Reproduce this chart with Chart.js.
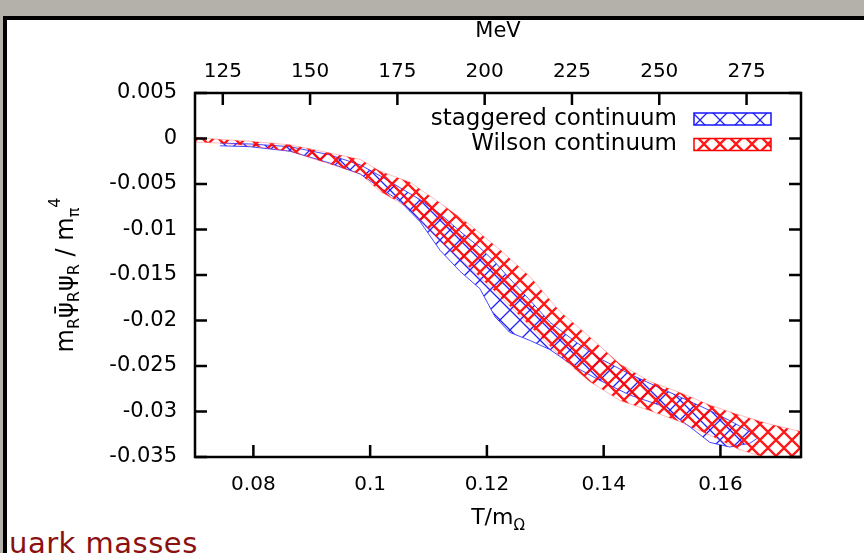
<!DOCTYPE html>
<html>
<head>
<meta charset="utf-8">
<script src="https://cdn.jsdelivr.net/npm/chart.js@4.4.0/dist/chart.umd.min.js"></script>
<style>
  html, body { margin: 0; padding: 0; }
  body { width: 864px; height: 553px; position: relative; overflow: hidden; background: #fff; }
  #topstrip { position: absolute; left: 0; top: 0; width: 864px; height: 17px; background: #b3b1a9; }
  #leftstrip { position: absolute; left: 0; top: 0; width: 3px; height: 553px; background: #b3b1a9; }
  #topline { position: absolute; left: 3px; top: 16px; width: 861px; height: 4px; background: #000; }
  #leftline { position: absolute; left: 3px; top: 16px; width: 4px; height: 537px; background: #000; }
  #note { position: absolute; left: 9px; top: 526px; font: 29px "DejaVu Sans"; letter-spacing: 0.5px; color: #8b1010; white-space: nowrap; }
  #wrap { position: absolute; left: 0; top: 0; width: 864px; height: 553px; }
</style>
</head>
<body>
<div id="topstrip"></div>
<div id="leftstrip"></div>
<div id="topline"></div>
<div id="leftline"></div>
<div id="note">uark masses</div>
<div id="wrap"><canvas id="chart" width="864" height="553"></canvas></div>
<script>
// axis ranges and ticks
const xMin = 0.07, xMax = 0.1738;
const mOmega = 1672; // MeV, top axis = T/m_Omega * m_Omega
const xTicks = [0.08, 0.1, 0.12, 0.14, 0.16];
const mevTicks = [125, 150, 175, 200, 225, 250, 275];
const yTicks = [0.005, 0, -0.005, -0.01, -0.015, -0.02, -0.025, -0.03, -0.035];

// Wilson continuum band
const wilsX  = [0.0700, 0.0743, 0.0794, 0.0863, 0.0931, 0.0983, 0.1017, 0.1068, 0.1120, 0.1171, 0.1222, 0.1274, 0.1325, 0.1376, 0.1428, 0.1479, 0.1530, 0.1582, 0.1633, 0.1685, 0.1738];
const wilsHi = [0.00015, -0.0001, -0.0003, -0.0007, -0.0016, -0.0023, -0.0036, -0.0048, -0.0071, -0.0095, -0.0122, -0.0152, -0.0190, -0.0218, -0.0248, -0.0267, -0.0279, -0.0293, -0.0304, -0.0314, -0.0322];
const wilsLo = [-0.0004, -0.0005, -0.0008, -0.0014, -0.0028, -0.0039, -0.0058, -0.0077, -0.0113, -0.0142, -0.0173, -0.0206, -0.0239, -0.0267, -0.0288, -0.0299, -0.0311, -0.0326, -0.0342, -0.0352, -0.0358];

// staggered continuum band
const stagX  = [0.0743, 0.0794, 0.0863, 0.0931, 0.0983, 0.1017, 0.1051, 0.1085, 0.1120, 0.1154, 0.1188, 0.1214, 0.1239, 0.1274, 0.1308, 0.1351, 0.1394, 0.1445, 0.1496, 0.1548, 0.1582, 0.1616, 0.1650, 0.1662];
const stagHi = [-0.0005, -0.0006, -0.0009, -0.0018, -0.0029, -0.0041, -0.0054, -0.0067, -0.0083, -0.0102, -0.0120, -0.0136, -0.0154, -0.0178, -0.0202, -0.0223, -0.0242, -0.0259, -0.0274, -0.0289, -0.0299, -0.0310, -0.0322, -0.0329];
const stagLo = [-0.0008, -0.0009, -0.0014, -0.0027, -0.0039, -0.0054, -0.0069, -0.0091, -0.0123, -0.0146, -0.0165, -0.0196, -0.0213, -0.0222, -0.0232, -0.0251, -0.0266, -0.0282, -0.0293, -0.0317, -0.0334, -0.0339, -0.0335, -0.0330];

const labels = ['staggered continuum', 'Wilson continuum'];

function hatch(size, color, width) {
  const c = document.createElement('canvas');
  c.width = c.height = size;
  const g = c.getContext('2d');
  g.strokeStyle = color;
  g.lineWidth = width;
  g.beginPath();
  for (const o of [-size, 0, size]) {
    g.moveTo(o, 0); g.lineTo(o + size, size);
    g.moveTo(o + size, 0); g.lineTo(o, size);
  }
  g.stroke();
  return g.createPattern(c, 'repeat');
}

const bluePat = hatch(20, 'rgba(10,10,255,0.9)', 1.3);
const redPat = hatch(16, 'rgba(255,0,0,0.9)', 2.3);

const pts = (xs, ys) => xs.map((x, i) => ({ x: x, y: ys[i] }));

const font = 'DejaVu Sans';

// draws a string made of parts with sub/superscripts, centred at (0,0) along the baseline
function richText(ctx, parts, align) {
  let w = 0;
  parts.forEach(p => { ctx.font = p.size + 'px "' + font + '"'; p.w = ctx.measureText(p.t).width; w += p.w; });
  let x = align === 'center' ? -w / 2 : 0;
  parts.forEach(p => {
    ctx.font = p.size + 'px "' + font + '"';
    ctx.fillText(p.t, x, p.dy || 0);
    x += p.w;
  });
}

const frame = {
  id: 'frame',
  afterDatasetsDraw(chart) {
    const { ctx, chartArea: a, scales } = chart;
    const tl = 12;
    ctx.save();
    ctx.strokeStyle = '#000';
    ctx.lineWidth = 2.5;
    ctx.strokeRect(a.left, a.top, a.right - a.left, a.bottom - a.top);
    ctx.beginPath();
    scales.x.ticks.forEach(t => {
      const p = scales.x.getPixelForValue(t.value);
      ctx.moveTo(p, a.bottom); ctx.lineTo(p, a.bottom - tl);
    });
    scales.x2.ticks.forEach(t => {
      const p = scales.x2.getPixelForValue(t.value);
      ctx.moveTo(p, a.top); ctx.lineTo(p, a.top + tl);
    });
    scales.y.ticks.forEach(t => {
      const p = scales.y.getPixelForValue(t.value);
      ctx.moveTo(a.left, p); ctx.lineTo(a.left + tl, p);
      ctx.moveTo(a.right, p); ctx.lineTo(a.right - tl, p);
    });
    ctx.stroke();
    ctx.restore();
  },
  afterDraw(chart) {
    const { ctx, chartArea: a } = chart;
    ctx.save();
    ctx.fillStyle = '#000';
    ctx.textBaseline = 'alphabetic';
    ctx.textAlign = 'left';

    // x title
    ctx.save();
    ctx.translate((a.left + a.right) / 2, 524);
    richText(ctx, [{ t: 'T/m', size: 22 }, { t: 'Ω', size: 15, dy: 6 }], 'center');
    ctx.restore();

    // y title
    ctx.save();
    ctx.translate(73, (a.top + a.bottom) / 2);
    ctx.rotate(-Math.PI / 2);
    richText(ctx, [
      { t: 'm', size: 24 }, { t: 'R', size: 16, dy: 6 },
      { t: 'ψ\u0304', size: 24 }, { t: 'R', size: 16, dy: 6 },
      { t: 'ψ', size: 24 }, { t: 'R', size: 16, dy: 6 },
      { t: ' / m', size: 24 }, { t: 'π', size: 16, dy: 6 }, { t: '4', size: 16, dy: -13 }
    ], 'center');
    ctx.restore();

    // legend (text right aligned, sample box on the right)
    const rows = [
      { text: labels[0], pat: bluePat, col: 'rgb(20,20,255)', y: 119 },
      { text: labels[1], pat: redPat, col: 'rgb(255,0,0)', y: 144.5 }
    ];
    ctx.font = '23px "' + font + '"';
    ctx.textAlign = 'right';
    ctx.textBaseline = 'middle';
    rows.forEach(r => {
      ctx.fillStyle = '#000';
      ctx.fillText(r.text, 677, r.y);
      ctx.fillStyle = r.pat;
      ctx.fillRect(694, r.y - 6, 77, 12);
      ctx.strokeStyle = r.col;
      ctx.lineWidth = 1.5;
      ctx.strokeRect(694, r.y - 6, 77, 12);
    });
    ctx.restore();
  }
};

new Chart(document.getElementById('chart').getContext('2d'), {
  type: 'line',
  data: {
    datasets: [
      { label: labels[1] + ' hi', data: pts(wilsX, wilsHi), borderColor: 'rgba(255,60,60,0.35)', borderWidth: 1, pointRadius: 0, fill: false },
      { label: labels[1], data: pts(wilsX, wilsLo), borderColor: 'rgba(255,60,60,0.35)', borderWidth: 1, pointRadius: 0, fill: '-1', backgroundColor: redPat },
      { label: labels[0] + ' hi', data: pts(stagX, stagHi), borderColor: 'rgba(40,40,255,0.85)', borderWidth: 1, pointRadius: 0, fill: false },
      { label: labels[0], data: pts(stagX, stagLo), borderColor: 'rgba(40,40,255,0.85)', borderWidth: 1, pointRadius: 0, fill: '-1', backgroundColor: bluePat }
    ]
  },
  options: {
    responsive: false,
    animation: false,
    devicePixelRatio: 1,
    layout: { padding: { left: 0, right: 63, top: 0, bottom: 0 } },
    elements: { line: { tension: 0 } },
    plugins: { legend: { display: false }, tooltip: { enabled: false } },
    scales: {
      x: {
        type: 'linear', position: 'bottom', min: xMin, max: xMax,
        afterBuildTicks: s => { s.ticks = xTicks.map(v => ({ value: v })); },
        afterFit: s => { s.height = 96; },
        grid: { display: false, drawTicks: false },
        border: { display: false },
        ticks: { padding: 16, color: '#000', font: { family: font, size: 20 }, maxRotation: 0, autoSkip: false, callback: v => String(v) }
      },
      x2: {
        type: 'linear', position: 'top', min: xMin * mOmega, max: xMax * mOmega,
        afterBuildTicks: s => { s.ticks = mevTicks.map(v => ({ value: v })); },
        afterFit: s => { s.height = 93; },
        grid: { display: false, drawTicks: false },
        border: { display: false },
        title: { display: true, text: 'MeV', color: '#000', font: { family: font, size: 21 }, padding: { top: 19, bottom: 0 } },
        ticks: { padding: 9, color: '#000', font: { family: font, size: 20 }, maxRotation: 0, autoSkip: false, callback: v => String(v) }
      },
      y: {
        type: 'linear', min: -0.035, max: 0.005,
        afterBuildTicks: s => { s.ticks = yTicks.map(v => ({ value: v })); },
        afterFit: s => { s.width = 195; },
        grid: { display: false, drawTicks: false },
        border: { display: false },
        ticks: { padding: 18, color: '#000', font: { family: font, size: 21 }, autoSkip: false, callback: v => String(+v.toFixed(3)) }
      }
    }
  },
  plugins: [frame]
});
</script>
</body>
</html>
